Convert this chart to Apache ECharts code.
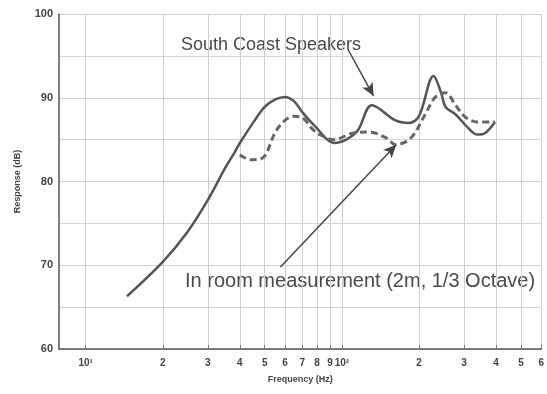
<!DOCTYPE html>
<html>
<head>
<meta charset="utf-8">
<style>
    html, body { margin: 0; padding: 0; background: #fff; }
    .box { width: 547px; height: 394px; }
</style>
<script src="https://cdn.jsdelivr.net/npm/echarts@6/dist/echarts.min.js"></script>
</head>
<body>
<div class="box"></div>
<script>
// frequency (Hz) / response (dB)
const speakerFreq = [14.5, 20, 25, 30, 35, 38, 40, 45, 50, 55, 60, 65, 70, 78, 94, 114, 131, 162, 183, 200, 228, 244, 254, 278, 309, 338, 363, 396];
const speakerDb = [66.3, 70.4, 74.0, 77.8, 81.6, 83.4, 84.6, 87.0, 88.9, 89.8, 90.1, 89.6, 88.3, 86.7, 84.6, 85.9, 89.1, 87.3, 87.0, 87.8, 92.6, 90.6, 88.9, 88.0, 86.5, 85.6, 85.8, 87.1];
const roomFreq = [40, 44, 49, 55, 60, 65, 71, 76, 82, 93, 111, 128, 149, 162, 186, 213, 232, 254, 278, 303, 338, 396];
const roomDb = [83.2, 82.6, 82.8, 85.9, 87.3, 87.8, 87.5, 86.4, 85.6, 85.0, 85.8, 85.9, 85.2, 84.4, 85.2, 88.2, 90.1, 90.6, 89.1, 87.7, 87.1, 87.1];
const xTicks = [10, 20, 30, 40, 50, 60, 70, 80, 90, 100, 200, 300, 400, 500, 600];
// arrow annotations: [fromFreq, fromDb, toFreq, toDb]
const speakerArrow = [106, 95.7, 133, 90.2];
const roomArrow = [57.6, 69.8, 163, 84.4];

; (function () {
    const chartDom = document.getElementsByClassName('box')[0];
    const myChart = echarts.init(chartDom);

    const lg = v => Math.log10(v);

    function toPoints(freq, db) {
        return freq.map((f, i) => [lg(f), db[i]]);
    }

    function arrow(a) {
        return [{ coord: [lg(a[0]), a[1]] }, { coord: [lg(a[2]), a[3]] }];
    }

    function tickLabel(v) {
        const f = Math.round(Math.pow(10, v));
        if (f === 10) return '10\u00b9';
        if (f === 100) return '10\u00b2';
        return String(f >= 100 ? f / 100 : f / 10);
    }

    const labelFont = {
        color: '#444',
        fontFamily: 'Liberation Sans',
        fontWeight: 'bold',
        fontSize: 10
    };

    const option = {
        animation: false,
        backgroundColor: '#fff',
        grid: { left: 59, right: 0, top: 14, bottom: 45 },
        xAxis: {
            type: 'value',
            min: lg(7.87),
            max: lg(602),
            name: 'Frequency (Hz)',
            nameLocation: 'middle',
            nameGap: 26,
            nameTextStyle: Object.assign({}, labelFont, { fontSize: 9 }),
            axisLine: { lineStyle: { color: '#555', width: 1.5 } },
            axisTick: { show: true, inside: true, length: 4, customValues: xTicks.map(lg), lineStyle: { color: '#777' } },
            axisLabel: Object.assign({}, labelFont, {
                customValues: xTicks.map(lg),
                formatter: tickLabel,
                margin: 9
            }),
            splitLine: { show: true, lineStyle: { color: '#cfcfcf', width: 1 } }
        },
        yAxis: {
            type: 'value',
            min: 60,
            max: 100,
            interval: 10,
            name: 'Response (dB)',
            nameLocation: 'middle',
            nameGap: 37,
            nameTextStyle: Object.assign({}, labelFont, { fontSize: 9 }),
            axisLine: { show: true, lineStyle: { color: '#555', width: 1.5 } },
            axisTick: { show: false },
            axisLabel: Object.assign({}, labelFont, { fontSize: 11, margin: 6 }),
            splitLine: { show: true, lineStyle: { color: '#cfcfcf', width: 1 } },
            minorTick: { show: false, splitNumber: 2 },
            minorSplitLine: { show: true, lineStyle: { color: '#d6d6d6', width: 1 } }
        },
        graphic: [
            {
                type: 'text', left: 181, top: 36,
                style: { text: 'South Coast Speakers', fill: '#4a4a4a', font: '18px "Liberation Sans"' }
            },
            {
                type: 'text', left: 185, top: 271,
                style: { text: 'In room measurement (2m, 1/3 Octave)', fill: '#4a4a4a', font: '20px "Liberation Sans"' }
            }
        ],
        series: [
            {
                name: 'South Coast Speakers',
                type: 'line',
                data: toPoints(speakerFreq, speakerDb),
                smooth: 0.35,
                showSymbol: false,
                lineStyle: { color: '#555', width: 2.5 },
                markLine: {
                    silent: true,
                    symbol: ['none', 'arrow'],
                    symbolSize: [9, 13],
                    label: { show: false },
                    lineStyle: { color: '#444', width: 1.5, type: 'solid' },
                    data: [arrow(speakerArrow), arrow(roomArrow)]
                }
            },
            {
                name: 'In room measurement',
                type: 'line',
                data: toPoints(roomFreq, roomDb),
                smooth: 0.35,
                showSymbol: false,
                lineStyle: { color: '#666', width: 3, type: [7, 4] }
            }
        ]
    };

    myChart.setOption(option);
})()
</script>
</body>
</html>
